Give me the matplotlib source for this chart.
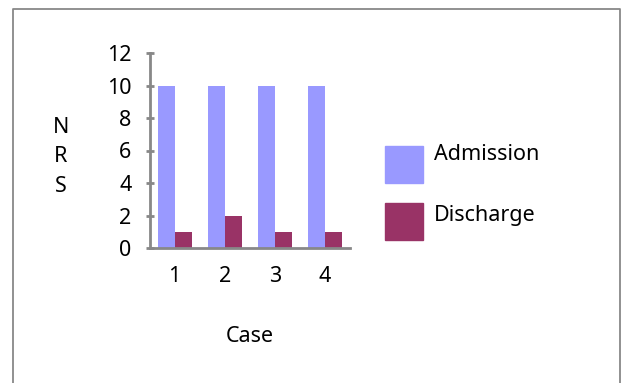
import matplotlib
matplotlib.use("Agg")
import matplotlib.pyplot as plt
from matplotlib.patches import Rectangle
import numpy as np

plt.rcParams['font.family'] = ['Noto Sans', 'DejaVu Sans']

cases = ["1", "2", "3", "4"]
admission = [10, 10, 10, 10]
discharge = [1, 2, 1, 1]
series_names = ["Admission", "Discharge"]
colors = ["#9999FF", "#993366"]
yticks = [0, 2, 4, 6, 8, 10, 12]

W, H = 621, 383
fig = plt.figure(figsize=(W/100, H/100), dpi=100)

# outer border (no bottom edge visible)
fig.add_artist(plt.Line2D([12.5/W, 12.5/W, 620/W, 620/W], [0, 1-8.5/H, 1-8.5/H, 0],
                          color="#888888", lw=1.3, transform=fig.transFigure))

x0, x1, y0, y1 = 149.5, 350, 248, 53
ax = fig.add_axes([x0/W, 1-y0/H, (x1-x0)/W, (y0-y1)/H])
x = np.arange(1, len(cases)+1)
bw = 0.34
ax.bar(x - bw/2, admission, bw, color=colors[0], label=series_names[0])
ax.bar(x + bw/2, discharge, bw, color=colors[1], label=series_names[1])
ax.set_xlim(0.5, 4.5)
ax.set_ylim(0, 12)
ax.set_yticks(yticks)
ax.set_xticks(x)
ax.set_xticklabels(cases)
for s in ["top", "right"]:
    ax.spines[s].set_visible(False)
for s in ["left", "bottom"]:
    ax.spines[s].set_color("#888888")
    ax.spines[s].set_linewidth(2)
fs = 15.5
ax.tick_params(axis="y", direction="inout", length=6, width=2, color="#888888",
               labelsize=fs, pad=10)
ax.tick_params(axis="x", length=0, labelsize=fs, pad=13)
ax.set_facecolor("none")

fig.text(250/W, 1-336/H, "Case", ha="center", va="center", fontsize=fs)
fig.text(61/W, 1-157/H, "N\nR\nS", ha="center", va="center", fontsize=fs, linespacing=1.55)

# legend
for i, (name, c) in enumerate(zip(series_names, colors)):
    top = 146 + i*57
    fig.add_artist(Rectangle((385/W, 1-(top+37)/H), 38/W, 37/H, color=c,
                             transform=fig.transFigure))
    fig.text(434/W, 1-(155 + i*60)/H, name, ha="left", va="center", fontsize=fs)

fig.savefig("out.png", dpi=100)
